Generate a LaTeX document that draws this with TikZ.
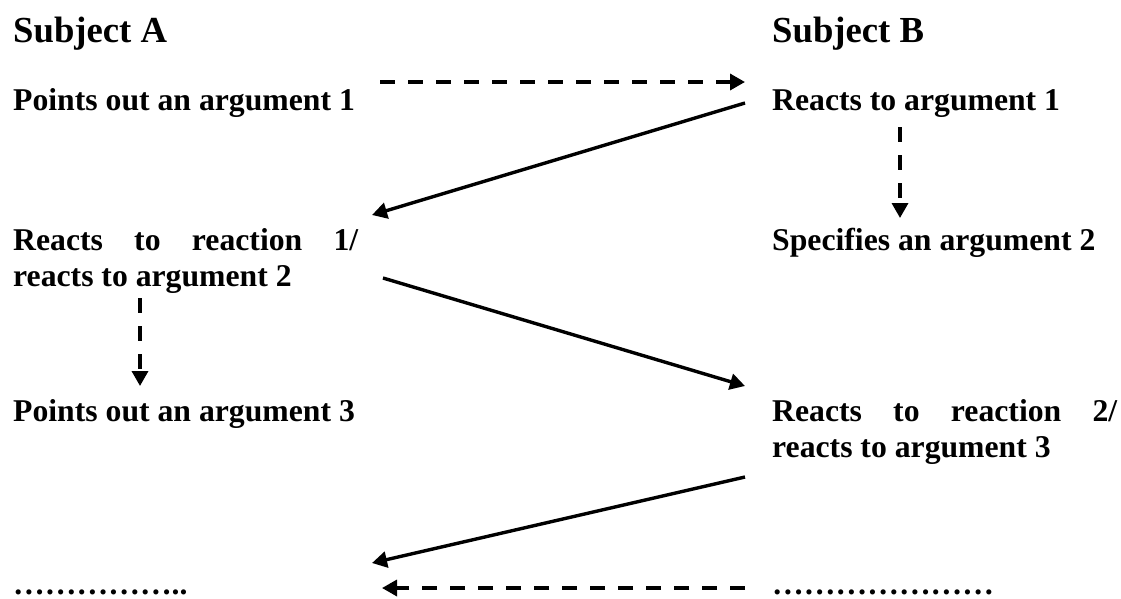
\documentclass[tikz,border=0pt]{standalone}
\usepackage{fontspec}
\setmainfont{Liberation Serif}
\usetikzlibrary{arrows.meta}
\tikzset{
  lbl/.style={anchor=base west, inner sep=0pt, font=\fontsize{31.7}{36}\selectfont\bfseries},
  head/.style={anchor=base west, inner sep=0pt, font=\fontsize{36.7}{40}\selectfont\bfseries},
  two/.style={lbl, text width=345pt, align=justify},
  conn/.style={line width=3.4pt, -{Triangle[length=15pt,width=16pt]}},
  dconn/.style={conn, dash pattern=on 15pt off 13pt}
}
\begin{document}
\begin{tikzpicture}[x=1pt,y=-1pt]
\useasboundingbox (0,0) rectangle (1121,598);
\node[head] (sa) at (13,42) {Subject A};
\node[head] (sb) at (772,42) {Subject B};
\node[lbl] (a1) at (13,110) {Points out an argument 1};
\node[lbl] (b1) at (772,110) {Reacts to argument 1};
\node[two] (a2) at (13,250) {Reacts to reaction 1/\linebreak reacts to argument 2};
\node[lbl] (b2) at (772,250) {Specifies an argument 2};
\node[lbl] (a3) at (13,421) {Points out an argument 3};
\node[two] (b3) at (772,421) {Reacts to reaction 2/\linebreak reacts to argument 3};
\node[lbl] (a4) at (13,594) {……………..};
\node[lbl] (b4) at (772,594) {…………………};
% connector end points
\coordinate (p1s) at (380,82);  \coordinate (p1e) at (745,82);
\coordinate (p2s) at (745,103); \coordinate (p2e) at (372,215);
\coordinate (p3s) at (900,127); \coordinate (p3e) at (900,218);
\coordinate (p4s) at (383,278); \coordinate (p4e) at (745,386);
\coordinate (p5s) at (140,298); \coordinate (p5e) at (140,386);
\coordinate (p6s) at (745,477); \coordinate (p6e) at (372,563);
\coordinate (p7s) at (745,588); \coordinate (p7e) at (382,588);
\draw[dconn] (p1s) -- (p1e);
\draw[conn] (p2s) -- (p2e);
\draw[dconn] (p3s) -- (p3e);
\draw[conn] (p4s) -- (p4e);
\draw[dconn] (p5s) -- (p5e);
\draw[conn] (p6s) -- (p6e);
\draw[dconn] (p7s) -- (p7e);
\end{tikzpicture}
\end{document}
